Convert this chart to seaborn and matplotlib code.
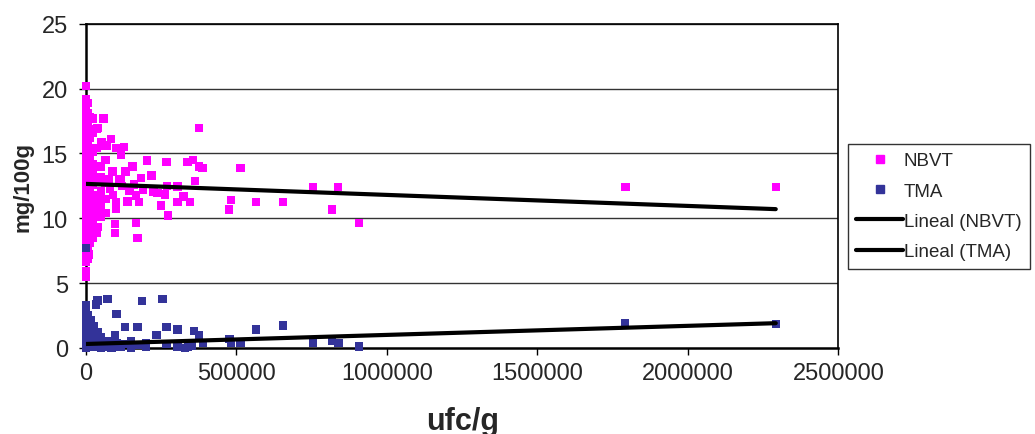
import numpy as np
import pandas as pd
import matplotlib
matplotlib.use("Agg")
import matplotlib.pyplot as plt
import seaborn as sns
from matplotlib.lines import Line2D

sns.set_style("white")
plt.rcParams['font.family'] = ['Liberation Sans', 'DejaVu Sans']

# NBVT points (ufc/g, mg/100g)
nbvt_x = [
    0, 0, 0, 0, 0, 0, 0, 0, 0, 0, 0, 0, 0, 0, 0, 0, 0, 0,
    0, 0, 0, 0, 0, 0, 0, 0, 0, 0, 0, 0, 0, 0, 0, 0, 0,
    6000, 6000, 6000, 6000, 6000, 6000, 6000, 6000, 6000, 6000, 6000, 6000, 6000, 6000, 6000, 6000,
    14000, 14000, 14000, 14000, 14000, 14000, 14000, 14000, 14000, 14000, 14000, 14000, 14000,
    24000, 24000, 24000, 24000, 24000, 24000, 24000, 24000, 24000, 24000, 24000,
    35000, 35000, 35000, 35000, 35000, 35000, 35000, 35000,
    50000, 50000, 50000, 50000, 50000, 50000,
    65000, 65000, 65000, 65000, 65000,
    10600, 21600, 21600, 38000, 32500, 21600, 49000, 38000, 58000, 82500,
    51500, 102000, 127000, 69000, 115700, 88000, 132000, 154600, 182000, 217700,
    204000, 267600, 337000, 356000, 376000, 387000, 376000, 388000, 361700, 115700,
    268600, 304000, 237700, 262000, 324000, 304000, 345000, 248700, 273000, 165600,
    177000, 138000, 99000, 99000, 165600, 95700, 95700, 171000, 513600, 482700,
    476000, 565800, 654000, 755000, 837000, 818000, 907000, 1793000, 2292000,
    80000, 110000, 145000, 90000, 120000, 75000, 160000, 190000, 225000,
]
nbvt_y = [
    20.2, 19.2, 18.8, 18.4, 18.0, 17.6, 17.2, 16.8, 16.4, 16.0, 15.6, 15.2, 14.8, 14.4, 14.0, 13.6, 13.2, 12.8,
    12.4, 12.0, 11.6, 11.2, 10.8, 10.4, 10.0, 9.6, 9.2, 8.8, 8.4, 8.0, 7.6, 7.0, 6.6, 5.9, 5.5,
    18.9, 18.1, 17.3, 16.5, 15.7, 14.9, 14.1, 13.3, 12.5, 11.7, 10.9, 10.1, 9.3, 8.5, 7.7, 6.9,
    17.8, 16.9, 16.2, 15.3, 14.6, 13.8, 13.0, 12.2, 11.4, 10.6, 9.8, 9.0, 8.1,
    17.7, 16.6, 15.1, 14.2, 13.4, 12.6, 11.8, 11.0, 10.2, 9.4, 8.5,
    16.9, 15.4, 14.0, 12.9, 11.6, 10.5, 9.3, 8.9,
    15.9, 14.0, 13.2, 12.1, 11.0, 10.1,
    15.6, 14.5, 12.7, 11.5, 10.4,
    7.2, 8.47, 9.95, 9.31, 8.87, 17.67, 10.08, 16.95, 17.7, 16.1,
    15.87, 15.4, 15.5, 15.6, 14.9, 13.6, 13.6, 14.0, 13.1, 13.3,
    14.45, 14.33, 14.33, 14.5, 14.0, 13.87, 16.97, 13.9, 12.86, 13.0,
    12.48, 12.45, 11.93, 11.83, 11.67, 11.24, 11.24, 10.98, 10.21, 11.75,
    11.24, 11.29, 11.24, 10.7, 9.62, 9.57, 8.87, 8.49, 13.9, 11.4,
    10.67, 11.24, 11.24, 12.42, 12.42, 10.67, 9.62, 12.42, 12.42,
    12.3, 12.9, 12.1, 11.8, 12.5, 13.0, 12.6, 12.2, 12.0,
]

# TMA points
tma_x = [
    0, 0, 0, 0, 0, 0, 0, 0, 0, 0, 0, 0,
    6000, 6000, 6000, 6000, 6000, 6000,
    15000, 15000, 15000, 15000, 15000,
    25000, 25000, 25000, 25000,
    38000, 38000, 38000, 38000, 32500,
    50000, 50000, 50000, 71500, 71500, 71500, 85000, 85000,
    95700, 95700, 102000, 102000, 115000, 129000, 129000, 150000, 150000,
    171000, 171000, 185500, 200000, 200000, 235000, 254000, 267600, 267600,
    304000, 304000, 330000, 340000, 359700, 375000, 388000, 353000,
    477000, 482700, 513600, 565800, 654000, 754000, 818000, 839000, 907000,
    1792000, 2292000,
]
tma_y = [
    7.7, 3.3, 2.7, 2.3, 2.0, 1.7, 1.4, 1.1, 0.8, 0.5, 0.2, 0.0,
    2.5, 1.9, 1.3, 0.7, 0.3, 0.1,
    2.1, 1.5, 0.9, 0.4, 0.1,
    1.7, 1.1, 0.6, 0.2,
    3.65, 1.2, 0.5, 0.1, 3.34,
    0.8, 0.3, 0.0, 3.78, 0.5, 0.1, 0.3, 0.0,
    1.0, 0.2, 2.62, 0.4, 0.1, 1.6, 0.3, 0.5, 0.0,
    1.6, 0.2, 3.63, 0.4, 0.05, 1.0, 3.78, 1.6, 0.3,
    1.41, 0.1, 0.0, 0.1, 1.29, 1.0, 0.36, 0.18,
    0.69, 0.36, 0.36, 1.41, 1.72, 0.36, 0.52, 0.36, 0.1,
    1.9, 1.85,
]

# linear trend lines as drawn in the chart (intercept, slope)
trend_nbvt = (12.65, -8.5e-7)
trend_tma = (0.30, 7.0e-7)
trend_x = [0, 2292000]

x_ticks = [0, 500000, 1000000, 1500000, 2000000, 2500000]
x_ticklabels = ["0", "500000", "1000000", "1500000", "2000000", "2500000"]
y_ticks = [0, 5, 10, 15, 20, 25]

c_nbvt = "#FF00FF"
c_tma = "#333399"

df = pd.concat([
    pd.DataFrame({"x": nbvt_x, "y": nbvt_y, "serie": "NBVT"}),
    pd.DataFrame({"x": tma_x, "y": tma_y, "serie": "TMA"}),
])

fig = plt.figure(figsize=(10.35, 4.35), dpi=100)
ax = fig.add_axes([0.083, 0.198, 0.727, 0.745])

for y in y_ticks[1:]:
    ax.axhline(y, color="#333333", lw=1, zorder=0)

sns.scatterplot(data=df, x="x", y="y", hue="serie", palette={"NBVT": c_nbvt, "TMA": c_tma},
                marker="s", s=36, linewidth=0, legend=False, clip_on=False, ax=ax, zorder=3)

tx = np.array(trend_x)
tl = pd.DataFrame({
    "x": np.concatenate([tx, tx]),
    "y": np.concatenate([trend_nbvt[0] + trend_nbvt[1] * tx, trend_tma[0] + trend_tma[1] * tx]),
    "serie": ["Lineal (NBVT)"] * 2 + ["Lineal (TMA)"] * 2,
})
sns.lineplot(data=tl, x="x", y="y", hue="serie", palette=["black", "black"], lw=3,
             legend=False, ax=ax, zorder=4)

ax.set_xlim(0, 2500000)
ax.set_ylim(0, 25)
ax.set_xticks(x_ticks)
ax.set_xticklabels(x_ticklabels)
ax.set_yticks(y_ticks)
ax.tick_params(axis="both", direction="out", length=5, width=1, color="black", labelsize=17,
               bottom=True, left=True)
ax.tick_params(axis="x", pad=5)
ax.tick_params(axis="y", pad=8)
ax.set_xlabel("ufc/g", fontsize=22, fontweight="bold", labelpad=16)
ax.set_ylabel("mg/100g", fontsize=16, fontweight="bold", labelpad=6)
for side in ["left", "bottom"]:
    ax.spines[side].set_linewidth(1.8)
for side in ["top", "right"]:
    ax.spines[side].set_linewidth(1.2)
for sp in ax.spines.values():
    sp.set_color("black")

handles = [
    Line2D([], [], marker="s", color=c_nbvt, ls="none", markersize=6),
    Line2D([], [], marker="s", color=c_tma, ls="none", markersize=6),
    Line2D([], [], color="black", lw=3),
    Line2D([], [], color="black", lw=3),
]
leg = fig.legend(handles, ["NBVT", "TMA", "Lineal (NBVT)", "Lineal (TMA)"],
                 loc="upper left", bbox_to_anchor=(0.819, 0.667), fontsize=13.5,
                 frameon=True, fancybox=False, edgecolor="black", handlelength=2.5,
                 handletextpad=0.05, borderpad=0.45, labelspacing=0.7, borderaxespad=0)
leg.get_frame().set_linewidth(1)

fig.savefig("out.png", dpi=100)
